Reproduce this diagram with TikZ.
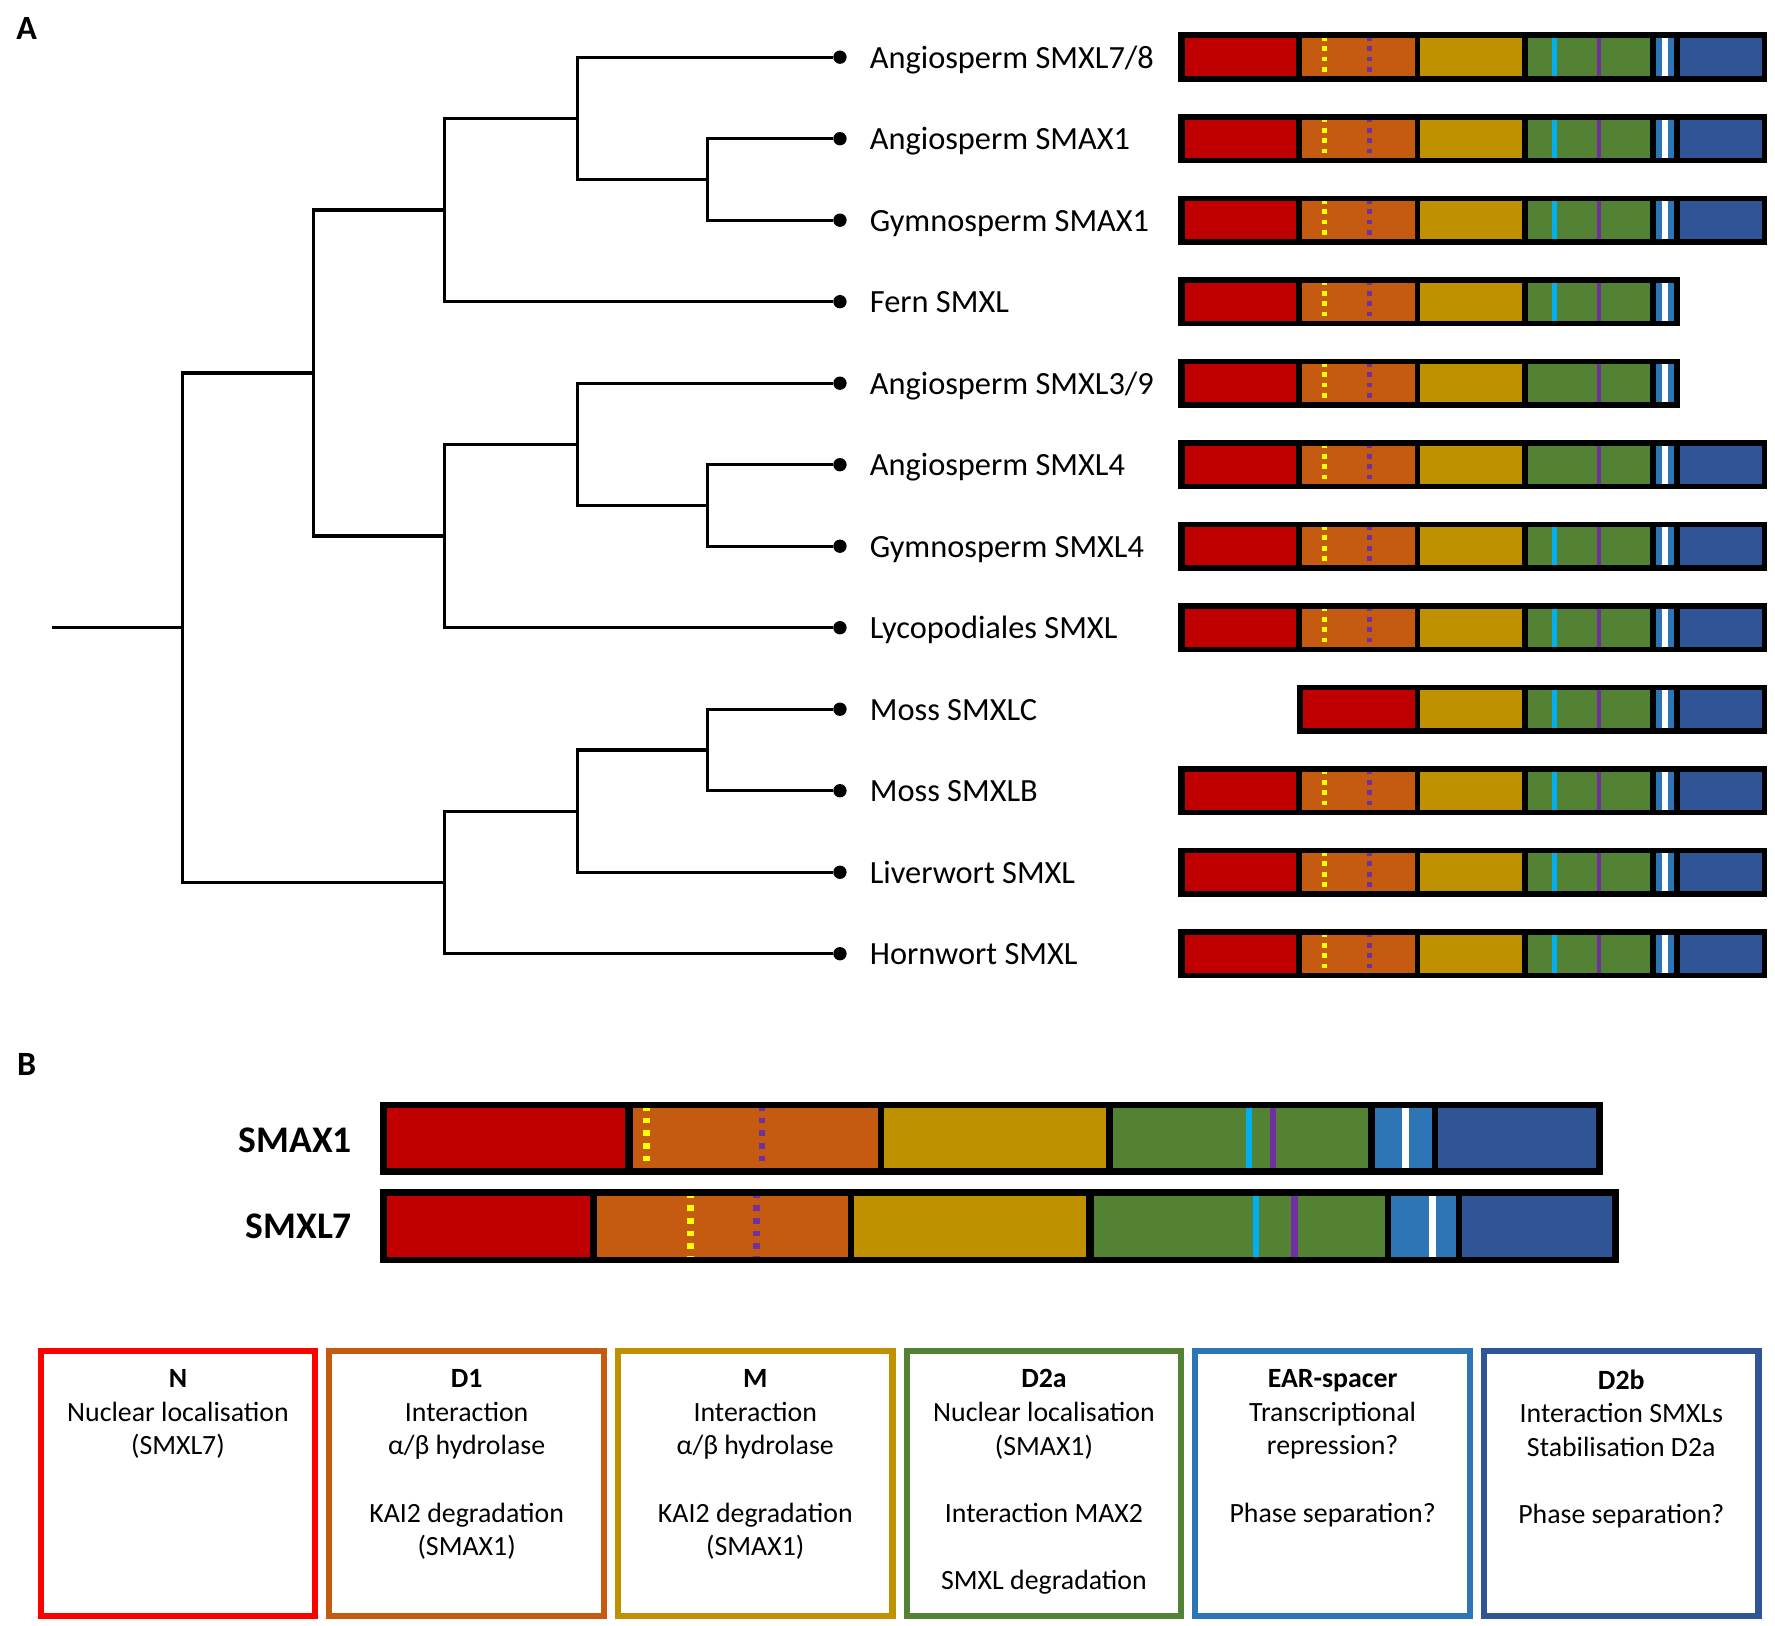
\documentclass[tikz,border=0pt]{standalone}
\usepackage{fontspec}
\setmainfont{Carlito}
\definecolor{cN}{HTML}{C00000}
\definecolor{cNb}{HTML}{FF0000}
\definecolor{cD1}{HTML}{C55A11}
\definecolor{cM}{HTML}{BF9000}
\definecolor{cD2a}{HTML}{548235}
\definecolor{cEAR}{HTML}{2E75B6}
\definecolor{cD2b}{HTML}{2F5597}
\definecolor{cCy}{HTML}{00B0F0}
\definecolor{cPu}{HTML}{7030A0}
\definecolor{cYe}{HTML}{FFFF00}
\tikzset{
  branch/.style={line width=1.35pt},
  leaf/.style={circle, fill=black, inner sep=0pt, minimum size=5.9pt},
  lab/.style={anchor=base west, inner sep=0pt, font=\fontsize{14.3}{17}\selectfont},
  plab/.style={anchor=base west, inner sep=0pt, font=\fontsize{15}{18}\selectfont\bfseries},
  blab/.style={anchor=base east, inner sep=0pt, font=\fontsize{16.6}{20}\selectfont\bfseries},
  ydotA/.style={draw=cYe, line width=2.3pt, dash pattern=on 2.05pt off 2.55pt, dash phase=0.9pt},
  pdotA/.style={draw=cPu, line width=2.3pt, dash pattern=on 2.05pt off 2.55pt, dash phase=0.9pt},
  cyA/.style={draw=cCy, line width=2.2pt},
  puA/.style={draw=cPu, line width=2.2pt},
  whA/.style={draw=white, line width=2.5pt},
  ydotB/.style={draw=cYe, line width=3pt, dash pattern=on 2.5pt off 3.1pt, dash phase=1.5pt},
  pdotB/.style={draw=cPu, line width=3pt, dash pattern=on 2.5pt off 3.1pt, dash phase=1.5pt},
  cyB/.style={draw=cCy, line width=2.75pt},
  puB/.style={draw=cPu, line width=2.75pt},
  whB/.style={draw=white, line width=3.1pt},
  fbox/.style={rectangle, line width=2.75pt, fill=white, minimum width=121.25pt, minimum height=117pt, inner sep=0pt},
  ftext/.style={anchor=north, inner sep=0pt, align=center, font=\fontsize{12.3}{14.85}\selectfont},
}
% panel A domain bar: #1 = y centre, #2 = has D1 (1/0), #3 = has cyan mark (1/0), #4 = has D2b (1/0)
\newcommand{\rowbar}[4]{%
  \ifnum#2=1 \def\barL{1041}\else\def\barL{1146}\fi
  \ifnum#4=1 \def\barR{1561}\else\def\barR{1484}\fi
  \fill[black] (\barL,#1-21.8) rectangle (\barR,#1+21.8);
  \ifnum#2=1
    \fill[cN] (1046.6,#1-16.9) rectangle (1145.1,#1+16.9);
    \fill[cD1] (1149.8,#1-16.9) rectangle (1249.6,#1+16.9);
    \draw[ydotA] (1169.9,#1-16.9) -- (1169.9,#1+16.9);
    \draw[pdotA] (1210.1,#1-16.9) -- (1210.1,#1+16.9);
  \else
    \fill[cN] (1151,#1-16.9) rectangle (1249.6,#1+16.9);
  \fi
  \fill[cM] (1254.8,#1-16.9) rectangle (1344.4,#1+16.9);
  \fill[cD2a] (1349.5,#1-16.9) rectangle (1457.9,#1+16.9);
  \ifnum#3=1 \draw[cyA] (1373.1,#1-16.9) -- (1373.1,#1+16.9);\fi
  \draw[puA] (1412.5,#1-16.9) -- (1412.5,#1+16.9);
  \fill[cEAR] (1463,#1-16.9) rectangle (1479,#1+16.9);
  \draw[whA] (1470.9,#1-16.9) -- (1470.9,#1+16.9);
  \ifnum#4=1 \fill[cD2b] (1483.8,#1-16.9) rectangle (1556.1,#1+16.9);\fi
}
\begin{document}
\begin{tikzpicture}[x=0.5pt,y=-0.5pt]
\fill[white] (0,0) rectangle (1568,1435.5);
\useasboundingbox (0,0) rectangle (1568,1435.5);

% ---------- panel labels
\node[plab] (pA) at (14,34.7) {A};
\node[plab] (pB) at (14.7,949.7) {B};

% ---------- tree leaves and labels
\foreach \i/\t in {0/Angiosperm SMXL7\slash 8, 1/Angiosperm SMAX1, 2/Gymnosperm SMAX1, 3/Fern SMXL,
  4/Angiosperm SMXL3\slash 9, 5/Angiosperm SMXL4, 6/Gymnosperm SMXL4, 7/Lycopodiales SMXL,
  8/Moss SMXLC, 9/Moss SMXLB, 10/Liverwort SMXL, 11/Hornwort SMXL}{
  \node[leaf] (l\i) at (742,50.5+72*\i) {};
  \node[lab] (t\i) at (768,60.2+72*\i) {\t};
}

% ---------- internal nodes
\coordinate (A2) at (625,158.5);
\coordinate (A1) at (510,104.5);
\coordinate (A3) at (393,185.5);
\coordinate (B2) at (625,446.5);
\coordinate (B1) at (510,392.5);
\coordinate (B3) at (393,473.5);
\coordinate (C)  at (277,329.5);
\coordinate (D2) at (625,662.5);
\coordinate (D1) at (510,716.5);
\coordinate (D3) at (393,779.5);
\coordinate (R)  at (161,554.5);
\coordinate (R0) at (45.6,554.5);

\draw[branch] (R0) -- (R);
\draw[branch] (R) |- (C);
\draw[branch] (R) |- (D3);
\draw[branch] (C) |- (A3);
\draw[branch] (C) |- (B3);
\draw[branch] (A3) |- (A1);
\draw[branch] (A3) |- (l3);
\draw[branch] (A1) |- (l0);
\draw[branch] (A1) |- (A2);
\draw[branch] (A2) |- (l1);
\draw[branch] (A2) |- (l2);
\draw[branch] (B3) |- (B1);
\draw[branch] (B3) |- (l7);
\draw[branch] (B1) |- (l4);
\draw[branch] (B1) |- (B2);
\draw[branch] (B2) |- (l5);
\draw[branch] (B2) |- (l6);
\draw[branch] (D3) |- (D1);
\draw[branch] (D3) |- (l11);
\draw[branch] (D1) |- (D2);
\draw[branch] (D1) |- (l10);
\draw[branch] (D2) |- (l8);
\draw[branch] (D2) |- (l9);

% ---------- panel A domain bars
\rowbar{50.5}{1}{1}{1}
\rowbar{122.5}{1}{1}{1}
\rowbar{194.5}{1}{1}{1}
\rowbar{266.5}{1}{1}{0}
\rowbar{338.5}{1}{0}{0}
\rowbar{410.5}{1}{0}{1}
\rowbar{482.5}{1}{1}{1}
\rowbar{554.5}{1}{1}{1}
\rowbar{626.5}{0}{1}{1}
\rowbar{698.5}{1}{1}{1}
\rowbar{770.5}{1}{1}{1}
\rowbar{842.5}{1}{1}{1}

% ---------- panel B bars
\node[blab] (sA) at (311.3,1017.7) {SMAX1};
\node[blab] (sL) at (311.3,1094) {SMXL7};

% SMAX1
\fill[black] (335.5,973.2) rectangle (1415.6,1038);
\fill[cN]   (341.9,979.1) rectangle (552.4,1032.1);
\fill[cD1]  (558.8,979.1) rectangle (775.3,1032.1);
\draw[ydotB] (571.4,979.1) -- (571.4,1032.1);
\draw[pdotB] (673.2,979.1) -- (673.2,1032.1);
\fill[cM]   (781.2,979.1) rectangle (976.8,1032.1);
\fill[cD2a] (983.4,979.1) rectangle (1208.7,1032.1);
\draw[cyB] (1103.2,979.1) -- (1103.2,1032.1);
\draw[puB] (1124.8,979.1) -- (1124.8,1032.1);
\fill[cEAR] (1214.9,979.1) rectangle (1265,1032.1);
\draw[whB] (1241.6,979.1) -- (1241.6,1032.1);
\fill[cD2b] (1270.5,979.1) rectangle (1410.1,1032.1);

% SMXL7
\fill[black] (335.5,1050.6) rectangle (1429.9,1116);
\fill[cN]   (341.9,1056.6) rectangle (521.3,1110.2);
\fill[cD1]  (527.2,1056.6) rectangle (748.9,1110.2);
\draw[ydotB] (610,1056.6) -- (610,1110.2);
\draw[pdotB] (668.4,1056.6) -- (668.4,1110.2);
\fill[cM]   (754.8,1056.6) rectangle (959.2,1110.2);
\fill[cD2a] (966.5,1056.6) rectangle (1223.2,1110.2);
\draw[cyB] (1109.8,1056.6) -- (1109.8,1110.2);
\draw[puB] (1143.5,1056.6) -- (1143.5,1110.2);
\fill[cEAR] (1229.1,1056.6) rectangle (1285.9,1110.2);
\draw[whB] (1265,1056.6) -- (1265,1110.2);
\fill[cD2b] (1291.8,1056.6) rectangle (1423.6,1110.2);

% ---------- function boxes
\node[fbox, draw=cNb]  (bN)   at (157.2,1310.75) {};
\node[fbox, draw=cD1]  (bD1)  at (412.2,1310.75) {};
\node[fbox, draw=cM]   (bM)   at (667.2,1310.75) {};
\node[fbox, draw=cD2a] (bD2a) at (922.2,1310.75) {};
\node[fbox, draw=cEAR] (bEAR) at (1177.2,1310.75) {};
\node[fbox, draw=cD2b] (bD2b) at (1432.2,1310.75) {};

\node[ftext] (xN) at (157.2,1209.4) {{\bfseries N}\\Nuclear localisation\\(SMXL7)};
\node[ftext] (xD1) at (412.2,1209.4) {{\bfseries D1}\\Interaction\\α/β hydrolase\\[14.85pt]KAI2 degradation\\(SMAX1)};
\node[ftext] (xM) at (667.2,1209.4) {{\bfseries M}\\Interaction\\α/β hydrolase\\[14.85pt]KAI2 degradation\\(SMAX1)};
\node[ftext] (xD2a) at (922.2,1209.4) {{\bfseries D2a}\\Nuclear localisation\\(SMAX1)\\[14.85pt]Interaction MAX2\\[14.85pt]SMXL degradation};
\node[ftext] (xEAR) at (1177.2,1209.4) {{\bfseries EAR-spacer}\\Transcriptional\\repression?\\[14.85pt]Phase separation?};
\node[ftext] (xD2b) at (1432.2,1209.4) {{\bfseries D2b}\\Interaction SMXLs\\Stabilisation D2a\\[14.85pt]Phase separation?};
\end{tikzpicture}
\end{document}
